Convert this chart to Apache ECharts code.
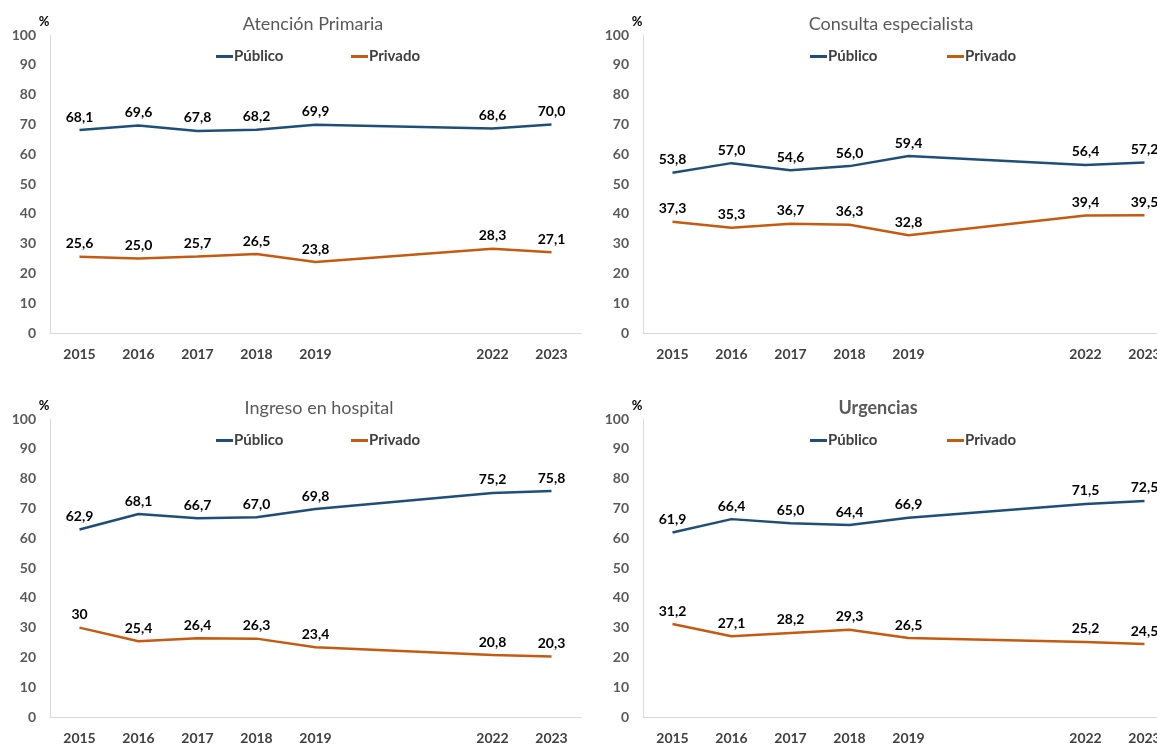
<!DOCTYPE html>
<html>
<head>
<meta charset="utf-8">
<title>Valoración sistema sanitario</title>
<script src="https://cdn.jsdelivr.net/npm/echarts@6/dist/echarts.min.js"></script>
<style>
  html, body { margin: 0; padding: 0; background: #fff; }
  #chart { width: 1157px; height: 744px; }
</style>
</head>
<body>
<div id="chart"></div>
<script>
// años con dato (2020 y 2021 no hay)
const years = [2015, 2016, 2017, 2018, 2019, 2022, 2023];
const yTicks = [0, 10, 20, 30, 40, 50, 60, 70, 80, 90, 100];

const atencionPublico = [68.1, 69.6, 67.8, 68.2, 69.9, 68.6, 70.0];
const atencionPrivado = [25.6, 25.0, 25.7, 26.5, 23.8, 28.3, 27.1];

const consultaPublico = [53.8, 57.0, 54.6, 56.0, 59.4, 56.4, 57.2];
const consultaPrivado = [37.3, 35.3, 36.7, 36.3, 32.8, 39.4, 39.5];

const ingresoPublico = [62.9, 68.1, 66.7, 67.0, 69.8, 75.2, 75.8];
const ingresoPrivado = [30, 25.4, 26.4, 26.3, 23.4, 20.8, 20.3];
// la primera etiqueta viene sin decimal en el original
const ingresoPrivadoEtiquetas = ['30', '25,4', '26,4', '26,3', '23,4', '20,8', '20,3'];

const urgenciasPublico = [61.9, 66.4, 65.0, 64.4, 66.9, 71.5, 72.5];
const urgenciasPrivado = [31.2, 27.1, 28.2, 29.3, 26.5, 25.2, 24.5];

const FONT = 'Lato';
const BLUE = '#1F4E79';
const ORANGE = '#C55A11';

const panels = [
    { title: 'Atención Primaria', bold: false, left: 50, top: 35, titleX: 313, legendX: [216, 351],
      pub: atencionPublico, priv: atencionPrivado },
    { title: 'Consulta especialista', bold: false, left: 643, top: 35, titleX: 891, legendX: [810, 947],
      pub: consultaPublico, priv: consultaPrivado },
    { title: 'Ingreso en hospital', bold: false, left: 50, top: 419, titleX: 319, legendX: [216, 351],
      pub: ingresoPublico, priv: ingresoPrivado, privLabels: ingresoPrivadoEtiquetas },
    { title: 'Urgencias', bold: true, left: 643, top: 419, titleX: 878, legendX: [810, 947],
      pub: urgenciasPublico, priv: urgenciasPrivado }
];

const fmt = v => v.toFixed(1).replace('.', ',');

let option = {
    backgroundColor: '#fff',
    animation: false,
    title: [], legend: [], grid: [], xAxis: [], yAxis: [], series: []
};

panels.forEach((p, i) => {
    option.title.push({
        text: p.title,
        left: p.titleX,
        top: p.top - 20,
        textAlign: 'center',
        padding: 0,
        textStyle: { fontFamily: FONT, fontSize: 18, fontWeight: p.bold ? 'bold' : 'normal', color: '#595959' }
    });
    ['Público', 'Privado'].forEach((name, k) => {
        option.legend.push({
            data: [name],
            left: p.legendX[k],
            top: p.top + 14,
            icon: 'rect',
            itemWidth: 17,
            itemHeight: 3,
            padding: 0,
            selectedMode: false,
            textStyle: { fontFamily: FONT, fontSize: 15, fontWeight: 'bold', color: '#404040', padding: [0, 0, 0, -4] }
        });
    });
    // el panel derecho se sale del lienzo como en el original
    option.grid.push({ left: p.left, top: p.top, width: 531, height: 298, outerBoundsMode: 'none' });
    option.xAxis.push({
        type: 'value',
        gridIndex: i,
        min: 2014.5,
        max: 2023.5,
        axisLine: { lineStyle: { color: '#d9d9d9', width: 1 } },
        axisTick: { show: false },
        splitLine: { show: false },
        axisLabel: {
            customValues: years,
            formatter: v => String(v),
            margin: 14,
            fontFamily: FONT, fontSize: 14, fontWeight: 'bold', color: '#404040'
        }
    });
    option.yAxis.push({
        type: 'value',
        gridIndex: i,
        min: yTicks[0],
        max: yTicks[yTicks.length - 1],
        interval: 10,
        name: '%',
        nameLocation: 'end',
        nameGap: 6,
        nameTextStyle: { fontFamily: FONT, fontSize: 13, fontWeight: 'bold', color: '#000', padding: [0, 12, 0, 0] },
        axisLine: { show: true, lineStyle: { color: '#d9d9d9', width: 1 } },
        axisTick: { show: false },
        splitLine: { show: false },
        axisLabel: { margin: 14, fontFamily: FONT, fontSize: 14, fontWeight: 'bold', color: '#595959' }
    });
    [['Público', p.pub, BLUE, null], ['Privado', p.priv, ORANGE, p.privLabels]].forEach(([name, vals, color, labels]) => {
        option.series.push({
            name: name,
            type: 'line',
            xAxisIndex: i,
            yAxisIndex: i,
            data: years.map((y, j) => [y, vals[j]]),
            symbol: 'circle',
            symbolSize: 0,
            showSymbol: true,
            color: color,
            lineStyle: { color: color, width: 2.5 },
            label: {
                show: true,
                position: 'top',
                distance: 6,
                fontFamily: FONT, fontSize: 14, fontWeight: 'bold', color: '#000',
                formatter: params => labels ? labels[params.dataIndex] : fmt(params.value[1])
            }
        });
    });
});

let chart = echarts.init(document.getElementById('chart'));
chart.setOption(option);
</script>
</body>
</html>
